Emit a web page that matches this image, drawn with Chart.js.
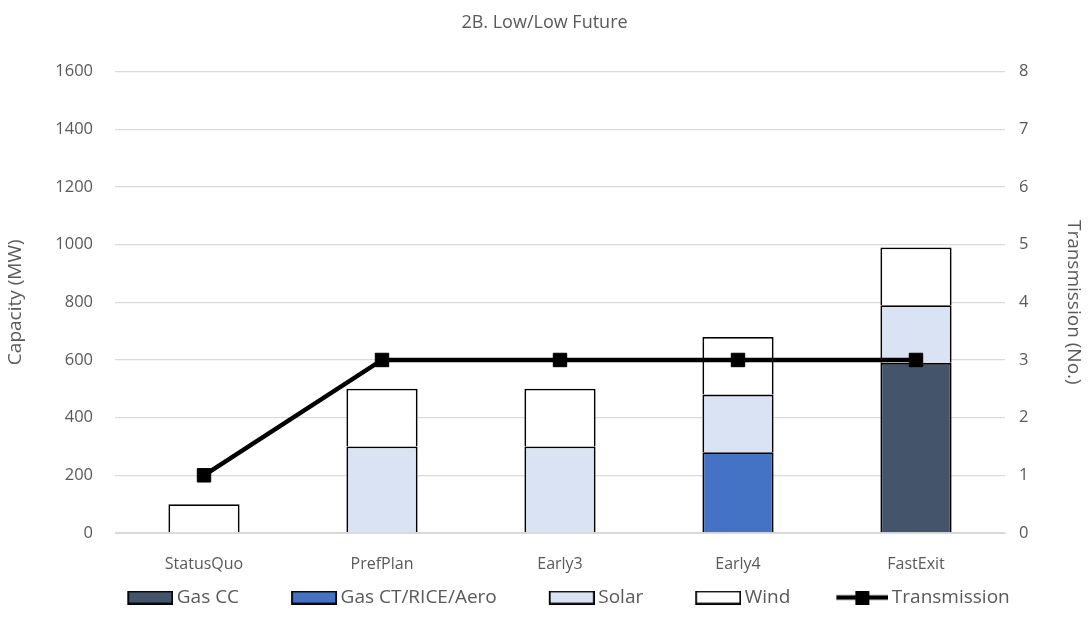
<!DOCTYPE html>
<html>
<head>
<meta charset="utf-8">
<script src="https://cdn.jsdelivr.net/npm/chart.js@4.4.1/dist/chart.umd.min.js"></script>
<style>
  html, body { margin: 0; padding: 0; background: #fff; }
  #wrap { width: 1089px; height: 627px; }
</style>
</head>
<body>
<div id="wrap"><canvas id="myChart"></canvas></div>
<script>
const scenarios = ['StatusQuo', 'PrefPlan', 'Early3', 'Early4', 'FastExit'];
const gasCC = [null, null, null, null, 590];
const gasCT = [null, null, null, 280, null];
const solar = [null, 300, 300, 200, 200];
const wind = [100, 200, 200, 200, 200];
const transmission = [1, 3, 3, 3, 3];

const FONT = "'Open Sans', 'Noto Sans', sans-serif";
const GREY = '#595959';

// legend keys: same-size images, key drawn at the right edge so the
// empty left part acts as the gap between legend entries
const KEY_W = 100;
function boxKey(fill) {
  const c = document.createElement('canvas');
  c.width = KEY_W; c.height = 14;
  const g = c.getContext('2d');
  const x0 = KEY_W - 46;
  g.fillStyle = fill;
  g.fillRect(x0, 0, 46, 14);
  g.strokeStyle = '#000';
  g.lineWidth = 1.8;
  g.strokeRect(x0 + 0.9, 0.9, 44.2, 12.2);
  return c;
}
function lineKey() {
  const c = document.createElement('canvas');
  c.width = KEY_W; c.height = 14;
  const g = c.getContext('2d');
  const x0 = KEY_W - 52;
  g.strokeStyle = '#000';
  g.lineWidth = 4.5;
  g.beginPath(); g.moveTo(x0, 7); g.lineTo(KEY_W, 7); g.stroke();
  g.fillStyle = '#000';
  g.fillRect(x0 + 19, 0, 14, 14);
  return c;
}

const keys = [boxKey('#44546A'), boxKey('#4472C4'), boxKey('#DAE3F3'), boxKey('#FFFFFF'), lineKey()];

function barSet(label, data, color) {
  return {
    type: 'bar',
    label: label,
    data: data,
    backgroundColor: color,
    borderColor: '#000',
    borderWidth: 1.8,
    stack: 's',
    yAxisID: 'y',
    order: 1,
    barPercentage: 0.4,
    categoryPercentage: 1.0
  };
}

new Chart(document.getElementById('myChart'), {
  data: {
    labels: scenarios,
    datasets: [
      barSet('Gas CC', gasCC, '#44546A'),
      barSet('Gas CT/RICE/Aero', gasCT, '#4472C4'),
      barSet('Solar', solar, '#DAE3F3'),
      barSet('Wind', wind, '#FFFFFF'),
      {
        type: 'line',
        label: 'Transmission',
        data: transmission,
        borderColor: '#000',
        backgroundColor: '#000',
        borderWidth: 4.5,
        pointStyle: 'rect',
        pointRadius: 9.5,
        pointBorderWidth: 1,
        pointHoverRadius: 9.5,
        yAxisID: 'y1',
        order: 0
      }
    ]
  },
  options: {
    responsive: true,
    maintainAspectRatio: false,
    animation: false,
    layout: { padding: { top: 12, bottom: 10, left: 0, right: 0 } },
    plugins: {
      title: {
        display: true,
        text: '2B. Low/Low Future',
        color: GREY,
        font: { family: FONT, size: 18, weight: 'normal' },
        padding: { top: 0, bottom: 38 }
      },
      legend: {
        position: 'bottom',
        labels: {
          color: GREY,
          font: { family: FONT, size: 19 },
          usePointStyle: true,
          pointStyleWidth: KEY_W - 12,
          boxHeight: 14,
          padding: 4,
          sort: (a, b) => a.datasetIndex - b.datasetIndex,
          generateLabels: (chart) => {
            const items = Chart.defaults.plugins.legend.labels.generateLabels(chart);
            items.forEach((it) => { it.pointStyle = keys[it.datasetIndex]; });
            return items;
          }
        }
      },
      tooltip: { enabled: false }
    },
    scales: {
      x: {
        grid: { display: false },
        border: { color: '#d9d9d9' },
        ticks: { color: GREY, font: { family: FONT, size: 16 }, padding: 14 },
        afterFit: (s) => { s.height = 51; }
      },
      y: {
        position: 'left',
        min: 0, max: 1600,
        ticks: { stepSize: 200, color: GREY, font: { family: FONT, size: 16.5 }, padding: 22, callback: (v) => String(v) },
        grid: { color: '#d9d9d9', lineWidth: 1.3, drawTicks: false },
        border: { display: false },
        title: { display: true, text: 'Capacity (MW)', color: GREY, font: { family: FONT, size: 19 } },
        afterFit: (s) => { s.width = 115; }
      },
      y1: {
        position: 'right',
        min: 0, max: 8,
        ticks: { stepSize: 1, color: GREY, font: { family: FONT, size: 16.5 }, padding: 14 },
        grid: { display: false, drawTicks: false },
        border: { display: false },
        title: { display: true, text: 'Transmission (No.)', color: GREY, font: { family: FONT, size: 19 } },
        afterFit: (s) => { s.width = 84; }
      }
    }
  }
});
</script>
</body>
</html>
